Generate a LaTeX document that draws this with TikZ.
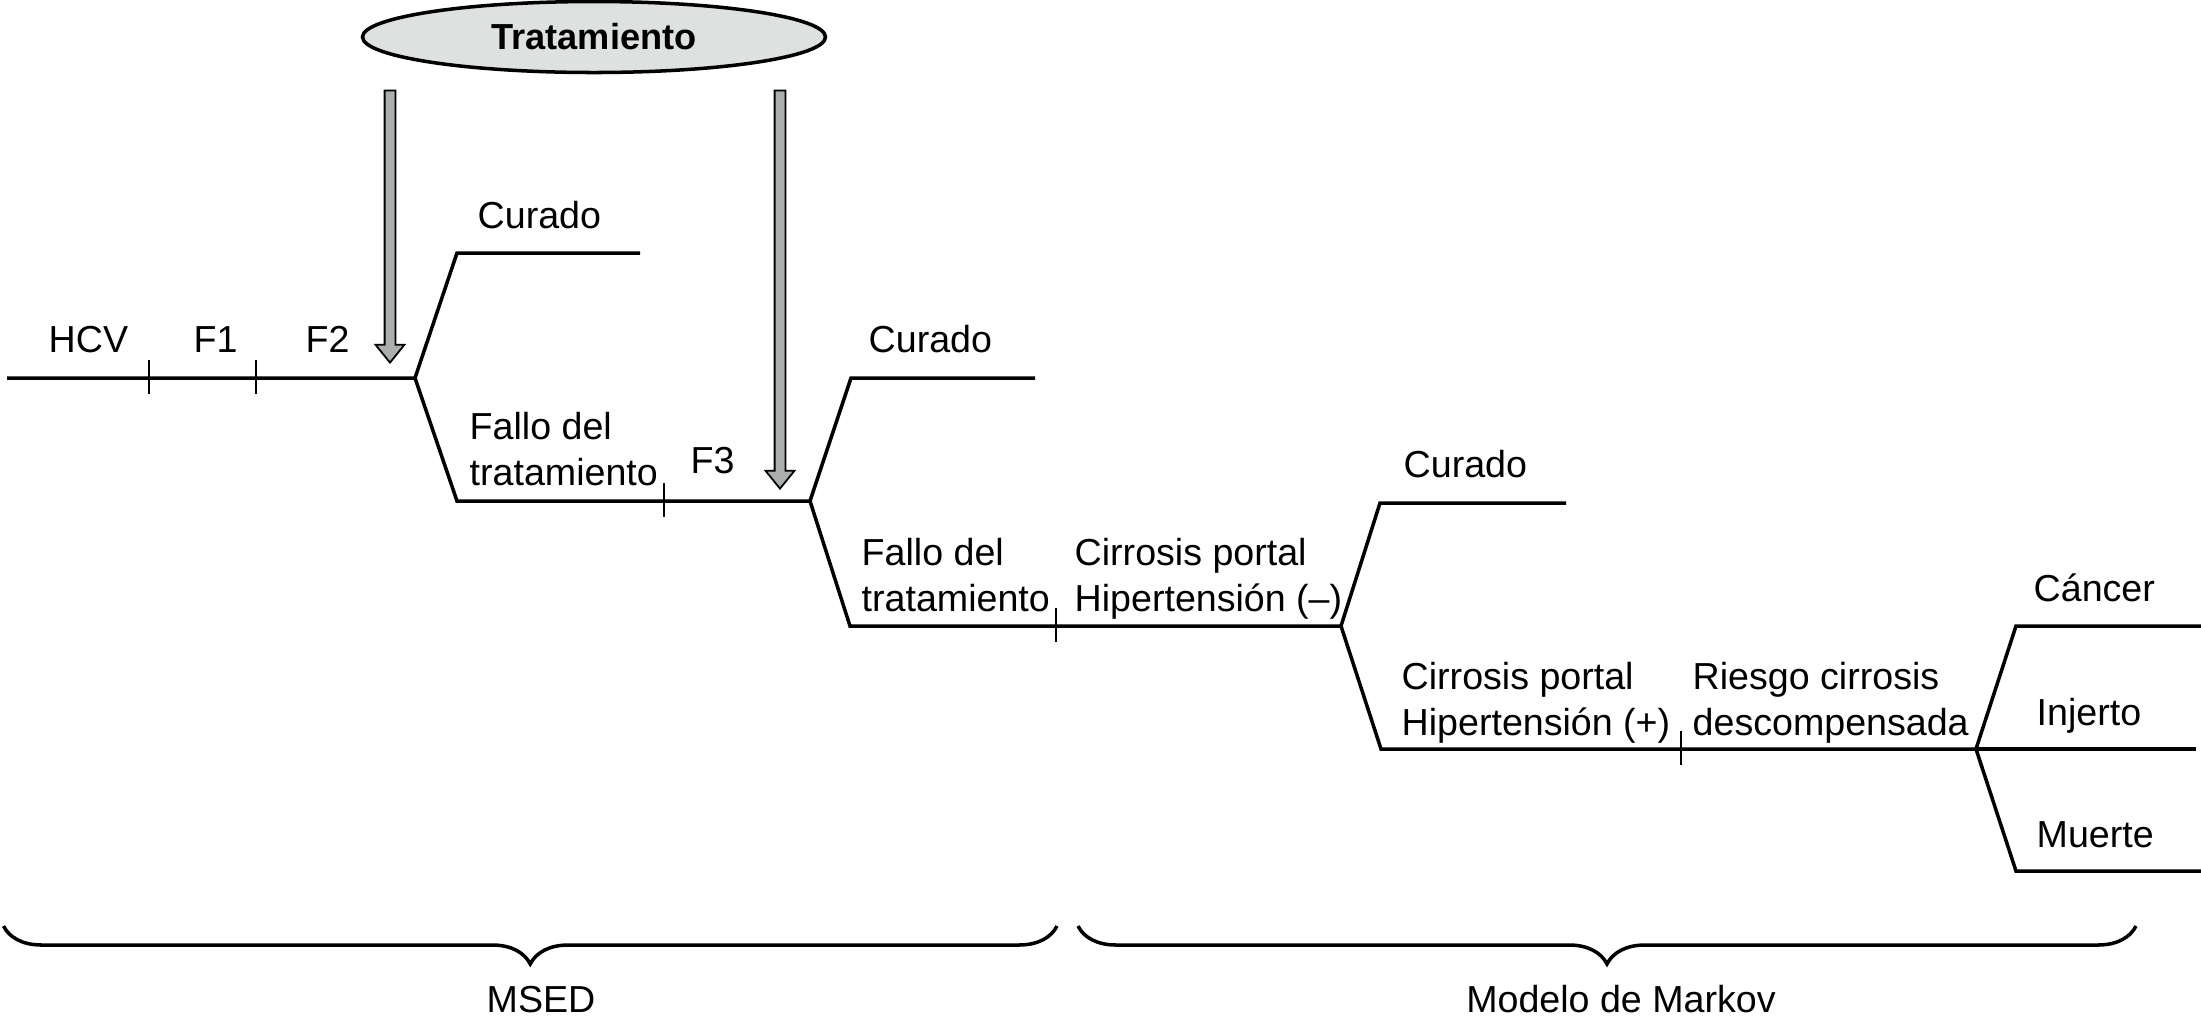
\documentclass[tikz,border=0pt]{standalone}
\usepackage{fontspec}
\setmainfont{Liberation Sans}
\usetikzlibrary{shapes.geometric,shapes.arrows,decorations.pathreplacing}
\definecolor{ovalgray}{RGB}{221,225,223}
\definecolor{arrowgray}{RGB}{170,174,172}

\begin{document}
\begin{tikzpicture}[
  font=\fontsize{10.7}{12.9}\selectfont,
  branch/.style={line width=1pt},
  tick/.style={line width=0.6pt},
  lbl/.style={inner sep=0pt, anchor=base west},
  twoline/.style={inner sep=0pt, anchor=base west, align=left},
  tarrow/.style={single arrow, draw=black, line width=0.5pt, fill=arrowgray, rotate=-90, anchor=tip,
    inner sep=0.045cm, single arrow head extend=0.09cm, single arrow tip angle=78},
  grp/.style={line width=1pt, decorate, decoration={brace, mirror, amplitude=0.38cm}}
]
\useasboundingbox (0,0) rectangle (22.01,-10.35);

\node[ellipse, draw, line width=1pt, fill=ovalgray, minimum width=4.63cm, minimum height=0.71cm, inner sep=0pt,
  font=\fontsize{10.3}{12}\selectfont\bfseries] (trat) at (5.94,-0.37) {Tratamiento};

% tree
\coordinate (s0) at (0.07,-3.78);
\coordinate (b1) at (4.15,-3.78);
\coordinate (u1) at (4.57,-2.53); \coordinate (c1) at (6.40,-2.53);
\coordinate (d1) at (4.57,-5.01); \coordinate (b2) at (8.10,-5.01);
\coordinate (u2) at (8.51,-3.78); \coordinate (c2) at (10.35,-3.78);
\coordinate (d2) at (8.50,-6.26); \coordinate (b3) at (13.41,-6.26);
\coordinate (u3) at (13.80,-5.03); \coordinate (c3) at (15.66,-5.03);
\coordinate (d3) at (13.81,-7.49); \coordinate (b4) at (19.76,-7.49);
\coordinate (u4) at (20.16,-6.26); \coordinate (e1) at (22.01,-6.26);
\coordinate (e2) at (21.96,-7.49);
\coordinate (u5) at (20.16,-8.71); \coordinate (e3) at (22.01,-8.71);

\draw[branch] (s0) -- (b1) -- (u1) -- (c1);
\draw[branch] (b1) -- (d1) -- (b2) -- (u2) -- (c2);
\draw[branch] (b2) -- (d2) -- (b3) -- (u3) -- (c3);
\draw[branch] (b3) -- (d3) -- (b4) -- (u4) -- (e1);
\draw[branch] (b4) -- (e2);
\draw[branch] (b4) -- (u5) -- (e3);

\foreach \tx/\ty in {1.49/-3.78, 2.56/-3.78, 6.64/-5.01, 10.56/-6.26, 16.81/-7.49}
  \draw[tick] (\tx,\ty+0.18) -- (\tx,\ty-0.16);

\node[tarrow, minimum height=2.72cm] (a1) at (3.90,-3.64) {};
\node[tarrow, minimum height=3.98cm] (a2) at (7.80,-4.90) {};

\node[lbl] (hcv) at (0.48,-3.52) {HCV};
\node[lbl] (f1) at (1.93,-3.52) {F1};
\node[lbl] (f2) at (3.05,-3.52) {F2};
\node[lbl] (cur1) at (4.77,-2.28) {Curado};
\node[twoline] (fal1) at (4.69,-4.85) {Fallo del\\tratamiento};
\node[lbl] (f3) at (6.90,-4.73) {F3};
\node[lbl] (cur2) at (8.68,-3.52) {Curado};
\node[twoline] (fal2) at (8.61,-6.11) {Fallo del\\tratamiento};
\node[twoline] (cneg) at (10.74,-6.11) {Cirrosis portal\\Hipertensión (–)};
\node[lbl] (cur3) at (14.03,-4.77) {Curado};
\node[twoline] (cpos) at (14.01,-7.35) {Cirrosis portal\\Hipertensión (+)};
\node[twoline] (ries) at (16.92,-7.35) {Riesgo cirrosis\\descompensada};
\node[lbl] (canc) at (20.33,-6.01) {Cáncer};
\node[lbl] (inj) at (20.36,-7.25) {Injerto};
\node[lbl] (mue) at (20.36,-8.47) {Muerte};

% braces
\coordinate (m0) at (0.035,-9.26); \coordinate (m1) at (10.57,-9.26);
\coordinate (k0) at (10.78,-9.26); \coordinate (k1) at (21.36,-9.26);
\draw[grp] (m0) -- (m1);
\draw[grp] (k0) -- (k1);
\node[inner sep=0pt, anchor=base] (msed) at (5.41,-10.12) {MSED};
\node[inner sep=0pt, anchor=base] (mark) at (16.21,-10.12) {Modelo de Markov};
\end{tikzpicture}
\end{document}
